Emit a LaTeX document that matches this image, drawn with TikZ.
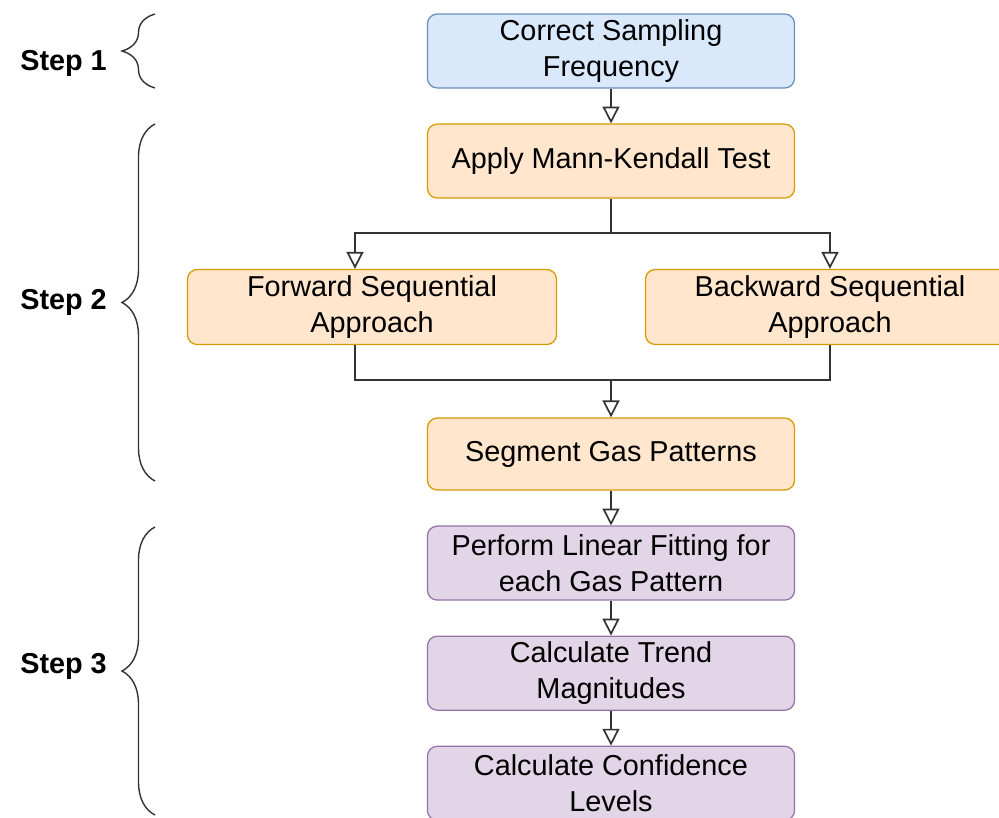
\documentclass[tikz,border=0pt]{standalone}
\usepackage{fontspec}
\setmainfont{Liberation Sans}
\usetikzlibrary{arrows.meta, positioning, decorations.pathreplacing}
\definecolor{bluefill}{HTML}{DAE8FC}
\definecolor{blueline}{HTML}{6C8EBF}
\definecolor{orangefill}{HTML}{FFE6CC}
\definecolor{orangeline}{HTML}{D79B00}
\definecolor{purplefill}{HTML}{E1D5E7}
\definecolor{purpleline}{HTML}{9673A6}
\definecolor{linegray}{HTML}{333333}
\tikzstyle{block} = [rectangle, rounded corners=7pt, draw, line width=0.9pt, align=center, inner sep=0pt, minimum width=9.175cm, minimum height=1.85cm, font=\fontsize{20.5}{25.5}\selectfont]
\tikzstyle{blueblock} = [block, fill=bluefill, draw=blueline]
\tikzstyle{orangeblock} = [block, fill=orangefill, draw=orangeline]
\tikzstyle{purpleblock} = [block, fill=purplefill, draw=purpleline]
\tikzstyle{arrow} = [line width=1.2pt, draw=linegray, -{Triangle[open, length=12pt, width=12pt]}]
\tikzstyle{line} = [line width=1.2pt, draw=linegray]
\tikzstyle{stepbrace} = [decorate, decoration={brace, amplitude=0.825cm}, line width=1pt, draw=linegray]
\tikzstyle{steplabel} = [anchor=base west, inner sep=0pt, font=\fontsize{20.5}{24}\selectfont\bfseries]

\begin{document}
\begin{tikzpicture}[x=0.025cm, y=-0.025cm, node distance=0.87cm]
    \useasboundingbox (0,0) rectangle (999,817);

    % Step 1
    \node (csf) [blueblock] at (611,51) {Correct Sampling\\Frequency};

    % Step 2
    \node (mk) [orangeblock, below=of csf] {Apply Mann-Kendall Test};
    \node (fwd) [orangeblock, minimum width=9.225cm, minimum height=1.875cm] at (372,307) {Forward Sequential\\Approach};
    \node (bwd) [orangeblock, minimum width=9.225cm, minimum height=1.875cm] at (830,307) {Backward Sequential\\Approach};
    \node (seg) [orangeblock, minimum height=1.8cm] at (611,454) {Segment Gas Patterns};

    % Step 3
    \node (fit) [purpleblock, below=of seg] {Perform Linear Fitting for\\each Gas Pattern};
    \node (mag) [purpleblock, below=of fit] {Calculate Trend\\Magnitudes};
    \node (conf) [purpleblock, below=of mag] {Calculate Confidence\\Levels};

    \coordinate (split) at (611,233);
    \coordinate (merge) at (611,380);

    % ==== Arrows
    \draw [arrow] (csf) -- (mk);
    \draw [line] (mk) -- (split);
    \draw [arrow] (split) -| ([xshift=-0.425cm]fwd.north);
    \draw [arrow] (split) -| (bwd.north);
    \draw [line] ([xshift=-0.425cm]fwd.south) |- (merge);
    \draw [line] (bwd.south) |- (merge);
    \draw [arrow] (merge) -- (seg);
    \draw [arrow] (seg) -- (fit);
    \draw [arrow] (fit) -- (mag);
    \draw [arrow] (mag) -- (conf);

    % ==== Steps
    \draw [stepbrace] (155,88) -- (155,14);
    \node (step1) [steplabel] at (20,70) {Step 1};
    \draw [stepbrace] (155,481) -- (155,124);
    \node (step2) [steplabel] at (20,309) {Step 2};
    \draw [stepbrace] (155,815) -- (155,527);
    \node (step3) [steplabel] at (20,673) {Step 3};

\end{tikzpicture}
\end{document}
